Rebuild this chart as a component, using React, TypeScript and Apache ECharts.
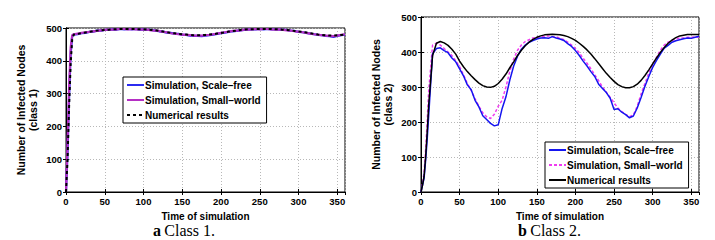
import React, { useEffect, useRef } from "react";
import * as echarts from "echarts";

const time: number[] = [0, 2, 4, 6, 8, 10, 15, 20, 25, 30, 35, 40, 45, 50, 55, 60, 65, 70, 75, 80, 85, 90, 95, 100, 105, 110, 115, 120, 125, 130, 135, 140, 145, 150, 155, 160, 165, 170, 175, 180, 185, 190, 195, 200, 205, 210, 215, 220, 225, 230, 235, 240, 245, 250, 255, 260, 265, 270, 275, 280, 285, 290, 295, 300, 305, 310, 315, 320, 325, 330, 335, 340, 345, 350, 355, 360];

// Class 1
const c1ScaleFree: number[] = [0, 120, 290, 420, 475, 480, 481, 484, 485, 488, 489, 492, 492, 494, 494, 496, 495, 497, 496, 497, 496, 497, 495, 496, 494, 494, 492, 490, 489, 486, 485, 483, 482, 480, 479, 477, 476, 476, 475, 477, 478, 480, 482, 484, 486, 488, 490, 491, 493, 494, 495, 496, 496, 497, 496, 497, 496, 496, 495, 494, 494, 492, 491, 488, 487, 485, 483, 481, 479, 478, 476, 475, 473, 476, 478, 480];
const c1SmallWorld: number[] = [0, 150, 320, 440, 478, 481, 483, 485, 487, 488, 490, 491, 493, 494, 495, 495, 496, 497, 497, 496, 497, 496, 496, 495, 495, 493, 492, 491, 488, 487, 484, 483, 481, 480, 479, 478, 477, 477, 477, 478, 479, 481, 483, 485, 487, 489, 491, 492, 493, 495, 495, 496, 497, 496, 497, 497, 496, 495, 496, 494, 493, 492, 490, 489, 487, 485, 483, 481, 480, 478, 477, 476, 475, 477, 479, 481];
const c1Numerical: number[] = [0, 100, 260, 390, 465, 480, 482, 484, 486, 488, 490, 492, 493, 494, 495, 496, 496, 497, 497, 497, 497, 497, 496, 496, 495, 494, 493, 491, 489, 487, 485, 484, 482, 481, 480, 479, 478, 478, 478, 479, 480, 481, 483, 485, 487, 489, 491, 492, 494, 495, 496, 496, 497, 497, 497, 497, 497, 496, 496, 495, 494, 493, 491, 489, 488, 486, 484, 482, 480, 479, 478, 477, 477, 478, 479, 480];

// Class 2
const c2ScaleFree: number[] = [0, 20, 40, 90, 150, 220, 395, 410, 412, 404, 398, 383, 372, 352, 332, 306, 292, 262, 243, 218, 207, 196, 189, 192, 238, 272, 320, 360, 388, 408, 420, 428, 433, 437, 440, 441, 439, 444, 440, 437, 433, 424, 416, 404, 390, 374, 360, 344, 330, 308, 296, 284, 268, 236, 238, 228, 221, 212, 217, 240, 270, 302, 330, 356, 376, 394, 411, 419, 428, 432, 435, 438, 440, 439, 442, 445];
const c2SmallWorld: number[] = [0, 25, 55, 120, 200, 290, 420, 425, 420, 410, 400, 390, 375, 358, 335, 310, 290, 266, 245, 226, 215, 210, 222, 245, 262, 300, 345, 380, 405, 420, 430, 435, 440, 442, 443, 445, 446, 444, 443, 440, 435, 428, 420, 410, 398, 382, 368, 352, 335, 318, 300, 285, 270, 255, 240, 230, 222, 215, 220, 245, 280, 310, 340, 365, 385, 405, 420, 428, 433, 437, 440, 440, 442, 442, 443, 442];
const c2Numerical: number[] = [0, 20, 45, 100, 170, 250, 390, 425, 430, 426, 419, 408, 394, 374, 358, 344, 332, 321, 311, 304, 300, 299, 302, 310, 322, 337, 355, 372, 390, 405, 418, 428, 436, 442, 446, 449, 450, 451, 450, 449, 447, 444, 439, 433, 425, 416, 406, 394, 381, 367, 353, 339, 327, 316, 307, 301, 298, 298, 301, 308, 319, 333, 349, 366, 383, 399, 413, 425, 434, 441, 446, 448, 450, 450, 450, 450];

const seriesNames: string[] = ["Simulation, Scale–free", "Simulation, Small–world", "Numerical results"];
const xTicks = { min: 0, max: 360, interval: 50 };
const yTicks = { min: 0, max: 500, interval: 100 };

const pairs = (ys: number[]) => ys.map((y, i) => [time[i], y]);

const FONT = "Liberation Sans, Arial, Helvetica, sans-serif";
const SERIF = "Liberation Serif, serif";

export default function App() {
  const ref = useRef<HTMLDivElement>(null);
  useEffect(() => {
    if (!ref.current) return;
    const chart = echarts.init(ref.current, undefined, { renderer: "svg" });
    const grids = [
      { left: 66, top: 28, width: 279, height: 164 },
      { left: 421, top: 17, width: 278, height: 175 },
    ];
    const labelStyle = { fontFamily: FONT, fontWeight: "bold" as const, fontSize: 9.5, color: "#000" };
    const xAxes: any[] = [];
    const yAxes: any[] = [];
    grids.forEach((_, g) => {
      xAxes.push({
        type: "value", gridIndex: g, min: xTicks.min, max: xTicks.max, interval: xTicks.interval,
        name: "Time of simulation", nameLocation: "middle", nameGap: 19,
        nameTextStyle: { ...labelStyle, fontSize: 10 },
        axisLine: { lineStyle: { color: "#000", width: 1 } },
        axisTick: { inside: true, length: 3, lineStyle: { color: "#000" } },
        axisLabel: { ...labelStyle, margin: 4, showMaxLabel: false },
        splitLine: { show: true, lineStyle: { type: [1, 2], color: "#b8b8b8", width: 1 } },
      });
      xAxes.push({
        type: "value", gridIndex: g, position: "top", min: xTicks.min, max: xTicks.max, interval: xTicks.interval,
        axisLine: { lineStyle: { color: "#000" } },
        axisTick: { inside: true, length: 3, lineStyle: { color: "#000" } },
        axisLabel: { show: false }, splitLine: { show: false },
      });
      yAxes.push({
        type: "value", gridIndex: g, min: yTicks.min, max: yTicks.max, interval: yTicks.interval,
        name: "Number of Infected Nodes\n(class " + (g + 1) + ")", nameLocation: "middle", nameRotate: 90, nameGap: 27,
        nameTextStyle: { ...labelStyle, fontSize: 10.5, lineHeight: 12 },
        axisLine: { lineStyle: { color: "#000", width: 1 } },
        axisTick: { inside: true, length: 3, lineStyle: { color: "#000" } },
        axisLabel: { ...labelStyle, margin: 4 },
        splitLine: { show: true, lineStyle: { type: [1, 2], color: "#b8b8b8", width: 1 } },
      });
      yAxes.push({
        type: "value", gridIndex: g, position: "right", min: yTicks.min, max: yTicks.max, interval: yTicks.interval,
        axisLine: { lineStyle: { color: "#000" } },
        axisTick: { inside: true, length: 3, lineStyle: { color: "#000" } },
        axisLabel: { show: false }, splitLine: { show: false },
      });
    });

    const mk = (prefix: string, idx: number, name: string, data: number[], color: string, width: number, type: any, z: number) => ({
      type: "line", name: prefix + name, xAxisIndex: idx * 2, yAxisIndex: idx * 2, data: pairs(data),
      showSymbol: false, symbol: "none", z,
      lineStyle: { color, width, type }, itemStyle: { color },
    });

    const series = [
      mk("a:", 0, seriesNames[0], c1ScaleFree, "#2b2bf0", 2.2, "solid", 2),
      mk("a:", 0, seriesNames[1], c1SmallWorld, "#b52fc4", 2.2, "solid", 3),
      mk("a:", 0, seriesNames[2], c1Numerical, "#000", 2, [3, 3], 4),
      mk("b:", 1, seriesNames[0], c2ScaleFree, "#1515f0", 1.5, "solid", 3),
      mk("b:", 1, seriesNames[1], c2SmallWorld, "#f03cf0", 1.5, [3, 2], 2),
      mk("b:", 1, seriesNames[2], c2Numerical, "#000", 1.5, "solid", 4),
    ];

    const legendBase = {
      orient: "vertical", itemWidth: 17, itemHeight: 8, itemGap: 5,
      padding: [3, 6, 3, 3], borderColor: "#000", borderWidth: 1, backgroundColor: "#fff",
      selectedMode: false,
      itemStyle: { opacity: 0 },
      textStyle: { fontFamily: FONT, fontWeight: "bold", fontSize: 10, color: "#000", padding: [0, 0, 0, -4] },
      formatter: (n: string) => n.slice(2),
    };

    const caption = (letter: string, label: string) =>
      "{b|" + letter + "} {r|" + label + "}";
    const rich = {
      b: { fontFamily: SERIF, fontWeight: "bold", fontSize: 16, fill: "#000" },
      r: { fontFamily: SERIF, fontSize: 16, fill: "#000" },
    };

    chart.setOption({
      animation: false,
      grid: grids.map((g) => ({ ...g, show: true, borderColor: "#000", borderWidth: 1, backgroundColor: "#fff" })),
      xAxis: xAxes,
      yAxis: yAxes,
      legend: [
        { ...legendBase, left: 123, top: 77, data: seriesNames.map((n) => "a:" + n) },
        { ...legendBase, left: 545, top: 142, data: seriesNames.map((n) => "b:" + n) },
      ],
      series,
      graphic: [
        { type: "text", left: 153, top: 222, style: { text: caption("a", "Class 1."), rich } },
        { type: "text", left: 518, top: 222, style: { text: caption("b", "Class 2."), rich } },
      ],
    });
    return () => chart.dispose();
  }, []);
  return <div ref={ref} style={{ position: "fixed", left: 0, top: 0, width: 715, height: 240, background: "#fff" }} />;
}
